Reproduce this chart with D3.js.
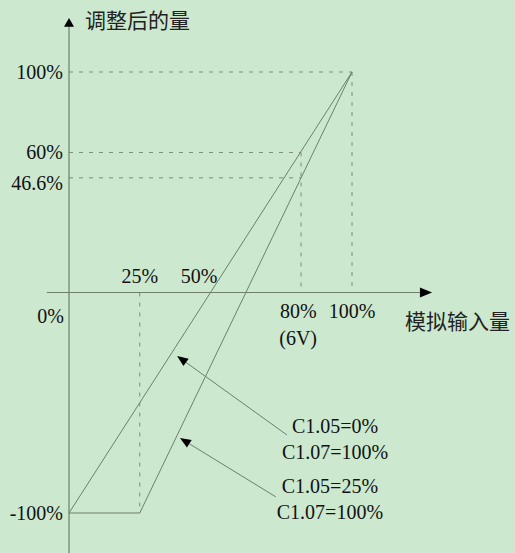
<!DOCTYPE html>
<html>
<head>
<meta charset="utf-8">
<script src="https://cdn.jsdelivr.net/npm/d3@7/dist/d3.min.js"></script>
<style>
html,body{margin:0;padding:0;background:#cce8cf;}
svg{display:block;}
</style>
</head>
<body>
<svg id="chart" width="515" height="553"></svg>
<script>
// ---- data ----
const line1X = [0, 100];
const line1Y = [-100, 100];
const line2X = [0, 25, 100];
const line2Y = [-100, -100, 100];

const xTickValues = [25, 46, 81, 100];
const xTickLabels = ["25%", "50%", "80%", "100%"];
const xTickAbove = [true, true, false, false];

const yTickValues = [100, 63.5, 49.5, -100];
const yTickLabels = ["100%", "60%", "46.6%", "-100%"];

// dashed guides: [x1, y1, x2, y2] in data units
const guideX1 = [0, 0, 0, 82, 100, 25];
const guideY1 = [100, 63.5, 52, 63.5, 100, 0];
const guideX2 = [100, 82, 82, 82, 100, 25];
const guideY2 = [100, 63.5, 52, 0, 0, -100];

const annTipX = [38.2, 39.2];
const annTipY = [-28.8, -66.0];
const annTailX = [77.0, 73.1];
const annTailY = [-64.6, -92.7];
const annTextX = [94.0, 92.2];
const annTextY1 = [-63.7, -90.9];
const annText1 = ["C1.05=0%", "C1.05=25%"];
const annText2 = ["C1.07=100%", "C1.07=100%"];

const yTitle = "调整后的量";
const xTitle = "模拟输入量";

// ---- scales ----
const x = d3.scaleLinear().domain([0, 100]).range([69, 352]);
const y = d3.scaleLinear().domain([-100, 100]).range([513, 72]);

const svg = d3.select("#chart");
const lineColor = "#6c806c";
const serif = "'Liberation Serif','Times New Roman',serif";
const cjk = "'Noto Sans CJK SC',sans-serif";

// guides
svg.append("g").selectAll("line").data(guideX1).join("line")
  .attr("x1", (d,i) => x(guideX1[i])).attr("y1", (d,i) => y(guideY1[i]))
  .attr("x2", (d,i) => x(guideX2[i])).attr("y2", (d,i) => y(guideY2[i]))
  .attr("stroke", "#7d8d7d").attr("stroke-width", 1)
  .attr("stroke-dasharray", "4,6");

// axes
svg.append("line").attr("x1", x(0)).attr("x2", x(0))
  .attr("y1", y(-125)).attr("y2", y(121))
  .attr("stroke", lineColor).attr("stroke-width", 1.2);
svg.append("path")
  .attr("d", `M${x(0)},${y(124.5)} L${x(0)-5},${y(120.5)} L${x(0)+5},${y(120.5)} Z`)
  .attr("fill", "#000");
svg.append("line").attr("x1", x(-7.8)).attr("x2", x(124))
  .attr("y1", y(0)).attr("y2", y(0))
  .attr("stroke", lineColor).attr("stroke-width", 1.2);
svg.append("path")
  .attr("d", `M${x(128.3)},${y(0)} L${x(124)},${y(0)-5} L${x(124)},${y(0)+5} Z`)
  .attr("fill", "#000");

// series lines
const lineGen = d3.line().x(d => x(d[0])).y(d => y(d[1]));
[[line1X, line1Y], [line2X, line2Y]].forEach(([xs, ys]) => {
  svg.append("path")
    .attr("d", lineGen(xs.map((v, i) => [v, ys[i]])))
    .attr("fill", "none").attr("stroke", lineColor).attr("stroke-width", 1);
});

// y tick labels
svg.append("g").selectAll("text").data(yTickValues).join("text")
  .attr("x", x(0) - 6).attr("y", d => y(d)).attr("dy", "0.35em")
  .attr("text-anchor", "end")
  .attr("font-family", serif).attr("font-size", 20).attr("fill", "#111")
  .text((d,i) => yTickLabels[i]);

// x tick labels
svg.append("g").selectAll("text").data(xTickValues).join("text")
  .attr("x", d => x(d)).attr("y", (d,i) => xTickAbove[i] ? y(0) - 10 : y(0) + 25)
  .attr("text-anchor", "middle")
  .attr("font-family", serif).attr("font-size", 20).attr("fill", "#111")
  .text((d,i) => xTickLabels[i]);
svg.append("text").attr("x", x(81) - 19).attr("y", y(0) + 52)
  .attr("font-family", serif).attr("font-size", 20).attr("fill", "#111")
  .text("(6V)");
svg.append("text").attr("x", x(0) - 5).attr("y", y(0) + 30)
  .attr("text-anchor", "end")
  .attr("font-family", serif).attr("font-size", 20).attr("fill", "#111")
  .text("0%");

// axis titles
svg.append("text").attr("x", x(0) + 16).attr("y", 28)
  .attr("font-family", cjk).attr("font-size", 21).attr("fill", "#222")
  .text(yTitle);
svg.append("text").attr("x", 405).attr("y", y(0) + 36)
  .attr("font-family", cjk).attr("font-size", 21).attr("fill", "#222")
  .text(xTitle);

// annotations
annTipX.forEach((d, i) => {
  const tx = x(annTipX[i]), ty = y(annTipY[i]);
  const sx = x(annTailX[i]), sy = y(annTailY[i]);
  const ang = Math.atan2(sy - ty, sx - tx);
  const L = 11, W = 4.5;
  const bx = tx + L * Math.cos(ang), by = ty + L * Math.sin(ang);
  svg.append("line").attr("x1", bx).attr("y1", by).attr("x2", sx).attr("y2", sy)
    .attr("stroke", lineColor).attr("stroke-width", 1);
  svg.append("path")
    .attr("d", `M${tx},${ty} L${bx - W*Math.sin(ang)},${by + W*Math.cos(ang)} L${bx + W*Math.sin(ang)},${by - W*Math.cos(ang)} Z`)
    .attr("fill", "#000");
  svg.append("text").attr("x", x(annTextX[i])).attr("y", y(annTextY1[i]))
    .attr("text-anchor", "middle")
    .attr("font-family", serif).attr("font-size", 20).attr("fill", "#111")
    .text(annText1[i]);
  svg.append("text").attr("x", x(annTextX[i])).attr("y", y(annTextY1[i]) + 26)
    .attr("text-anchor", "middle")
    .attr("font-family", serif).attr("font-size", 20).attr("fill", "#111")
    .text(annText2[i]);
});
</script>
</body>
</html>
